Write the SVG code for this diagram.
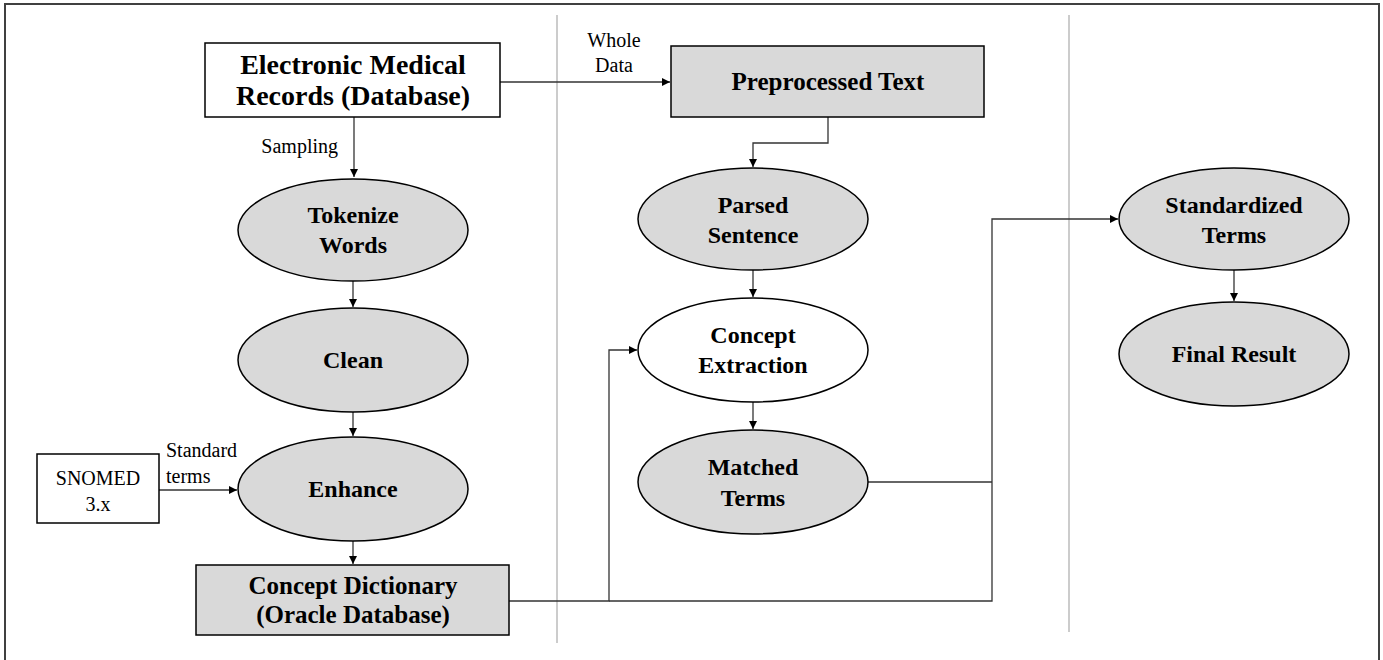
<svg xmlns="http://www.w3.org/2000/svg" width="1383" height="660" viewBox="0 0 1383 660">
<style>
.bx{fill:#fff;stroke:#000;stroke-width:1.5}
.gbx{fill:#d9d9d9;stroke:#000;stroke-width:1.5}
.el{fill:#d9d9d9;stroke:#000;stroke-width:1.5}
.wel{fill:#fff;stroke:#000;stroke-width:1.5}
.t{font-family:"Liberation Serif","Times New Roman",serif;font-weight:bold;font-size:24px;fill:#000;text-anchor:middle}
.tb{font-family:"Liberation Serif","Times New Roman",serif;font-weight:bold;font-size:25px;fill:#000;text-anchor:middle}
.tl{font-family:"Liberation Serif","Times New Roman",serif;font-weight:bold;font-size:28px;fill:#000;text-anchor:middle}
.r{font-family:"Liberation Serif","Times New Roman",serif;font-size:20px;fill:#000}
.c{fill:none;stroke:#333;stroke-width:1.3}
.div{stroke:#aaa;stroke-width:1.2}
</style>
<defs>
<marker id="ah" viewBox="0 0 10 10" refX="10" refY="5" markerWidth="8" markerHeight="8" markerUnits="userSpaceOnUse" orient="auto">
<path d="M0,0 L10,5 L0,10 z" fill="#000"/>
</marker>
</defs>
<rect x="5" y="4" width="1374" height="680" fill="#fff" stroke="#404040" stroke-width="2"/>
<g id="dividers">
<line class="div" x1="557" y1="15" x2="557" y2="643"/>
<line class="div" x1="1069" y1="15" x2="1069" y2="632"/>
</g>
<g id="connectors">
<path class="c" d="M500,82 H670" marker-end="url(#ah)"/>
<path class="c" d="M354,117 V177" marker-end="url(#ah)"/>
<path class="c" d="M353,281 V307" marker-end="url(#ah)"/>
<path class="c" d="M353,412 V436" marker-end="url(#ah)"/>
<path class="c" d="M353,541 V564" marker-end="url(#ah)"/>
<path class="c" d="M159,490 H237" marker-end="url(#ah)"/>
<path class="c" d="M828,117 V143 H753 V167" marker-end="url(#ah)"/>
<path class="c" d="M753,270 V297" marker-end="url(#ah)"/>
<path class="c" d="M753,402 V429" marker-end="url(#ah)"/>
<path class="c" d="M509,601 H609 V350 H637" marker-end="url(#ah)"/>
<path class="c" d="M609,601 H992 V219 H1118" marker-end="url(#ah)"/>
<path class="c" d="M867,482 H992"/>
<path class="c" d="M1234,270 V301" marker-end="url(#ah)"/>
<text class="r" x="338" y="153" text-anchor="end">Sampling</text>
<text class="r" x="614" y="47" text-anchor="middle">Whole</text>
<text class="r" x="614" y="72" text-anchor="middle">Data</text>
<text class="r" x="166" y="457">Standard</text>
<text class="r" x="166" y="483">terms</text>
</g>
<g id="emr">
<rect class="bx" x="205" y="43" width="295" height="74"/>
<text class="tl" x="353" y="74">Electronic Medical</text>
<text class="tl" x="353" y="105">Records (Database)</text>
</g>
<g id="preprocessed">
<rect class="gbx" x="671" y="46" width="313" height="71"/>
<text class="tb" x="828" y="90">Preprocessed Text</text>
</g>
<g id="tokenize">
<ellipse class="el" cx="353" cy="230" rx="115" ry="51"/>
<text class="t" x="353" y="223">Tokenize</text>
<text class="t" x="353" y="253">Words</text>
</g>
<g id="clean">
<ellipse class="el" cx="353" cy="360" rx="115" ry="52"/>
<text class="t" x="353" y="368">Clean</text>
</g>
<g id="enhance">
<ellipse class="el" cx="353" cy="489" rx="115" ry="52"/>
<text class="t" x="353" y="497">Enhance</text>
</g>
<g id="snomed">
<rect class="bx" x="37" y="454" width="122" height="69"/>
<text class="r" x="98" y="485" text-anchor="middle">SNOMED</text>
<text class="r" x="98" y="511" text-anchor="middle">3.x</text>
</g>
<g id="dictionary">
<rect class="gbx" x="196" y="565" width="313" height="70"/>
<text class="tb" x="353" y="594">Concept Dictionary</text>
<text class="tb" x="353" y="623">(Oracle Database)</text>
</g>
<g id="parsed">
<ellipse class="el" cx="753" cy="219" rx="115" ry="51"/>
<text class="t" x="753" y="213">Parsed</text>
<text class="t" x="753" y="243">Sentence</text>
</g>
<g id="extraction">
<ellipse class="wel" cx="753" cy="350" rx="115" ry="52"/>
<text class="t" x="753" y="343">Concept</text>
<text class="t" x="753" y="373">Extraction</text>
</g>
<g id="matched">
<ellipse class="el" cx="753" cy="482" rx="115" ry="52"/>
<text class="t" x="753" y="475">Matched</text>
<text class="t" x="753" y="506">Terms</text>
</g>
<g id="standardized">
<ellipse class="el" cx="1234" cy="219" rx="115" ry="51"/>
<text class="t" x="1234" y="213">Standardized</text>
<text class="t" x="1234" y="243">Terms</text>
</g>
<g id="final">
<ellipse class="el" cx="1234" cy="354" rx="115" ry="52"/>
<text class="t" x="1234" y="362">Final Result</text>
</g>
</svg>
